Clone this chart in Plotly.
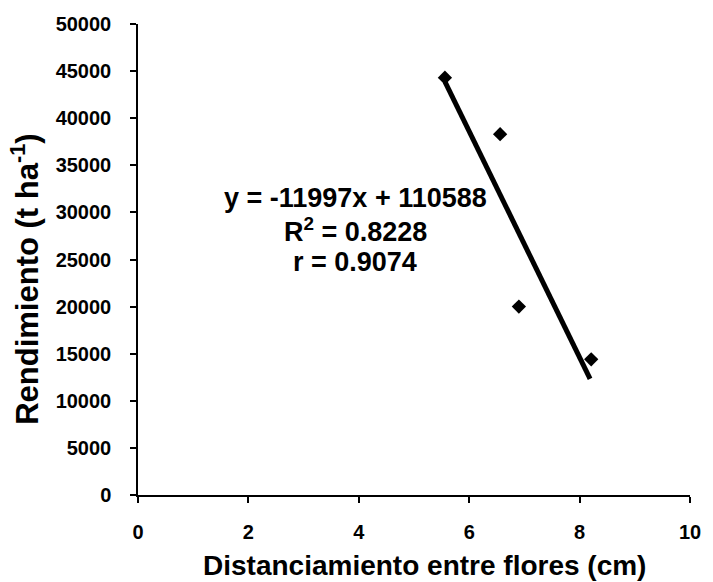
import plotly.graph_objects as go

# Flower spacing (cm) vs yield (t/ha)
distancia = [5.56, 6.56, 6.90, 8.21]
rendimiento = [44300, 38300, 20000, 14400]

# Linear fit reported for the data
pendiente = -11997
intercepto = 110588
r2 = 0.8228
r = 0.9074
x_fit = [5.56, 8.19]
y_fit = [pendiente * v + intercepto for v in x_fit]

x_ticks = [0, 2, 4, 6, 8, 10]
y_ticks = list(range(0, 50001, 5000))
y_labels = [str(v) for v in y_ticks]

FONT = "Liberation Sans, Arial, sans-serif"

fig = go.Figure()
fig.add_trace(go.Scatter(
    x=x_fit, y=y_fit, mode="lines",
    line=dict(color="black", width=5),
    showlegend=False, hoverinfo="skip",
))
fig.add_trace(go.Scatter(
    x=distancia, y=rendimiento, mode="markers",
    marker=dict(symbol="diamond", size=11, color="black"),
    showlegend=False,
))

eq_lines = [
    f"y = {pendiente}x + {intercepto}",
    f"R<sup>2</sup> = {r2}",
    f"r = {r}",
]
eq_y = [31529, 28132, 24735]
for txt, yy in zip(eq_lines, eq_y):
    fig.add_annotation(
        x=3.94, y=yy, xref="x", yref="y", text=f"<b>{txt}</b>",
        showarrow=False, xanchor="center", yanchor="middle",
        font=dict(family=FONT, size=27, color="black"),
    )

# Axis titles
fig.add_annotation(
    x=0.519, y=-0.150, xref="paper", yref="paper",
    text="<b>Distanciamiento entre flores (cm)</b>",
    showarrow=False, xanchor="center", yanchor="middle",
    font=dict(family=FONT, size=28, color="black"),
)
fig.add_annotation(
    x=-0.205, y=0.4586, xref="paper", yref="paper",
    text="<b>Rendimiento (t ha<sup>-1</sup>)</b>", textangle=-90,
    showarrow=False, xanchor="center", yanchor="middle",
    font=dict(family=FONT, size=31, color="black"),
)

axis_common = dict(
    showgrid=False, zeroline=False, showline=True,
    linecolor="black", linewidth=1.5,
    ticks="outside", tickcolor="black", tickwidth=1.5, ticklen=6,
    tickfont=dict(family=FONT, size=20, color="black", weight="bold"),
)
fig.update_xaxes(range=[0, 10], tickvals=x_ticks, ticklabelstandoff=12, **axis_common)
fig.update_yaxes(range=[0, 50000], tickvals=y_ticks, ticktext=y_labels,
                 ticklabelstandoff=15, **axis_common)

fig.update_layout(
    width=713, height=582,
    margin=dict(l=138, r=17, t=24, b=87),
    paper_bgcolor="white", plot_bgcolor="white",
)

fig.write_html("out.html")
